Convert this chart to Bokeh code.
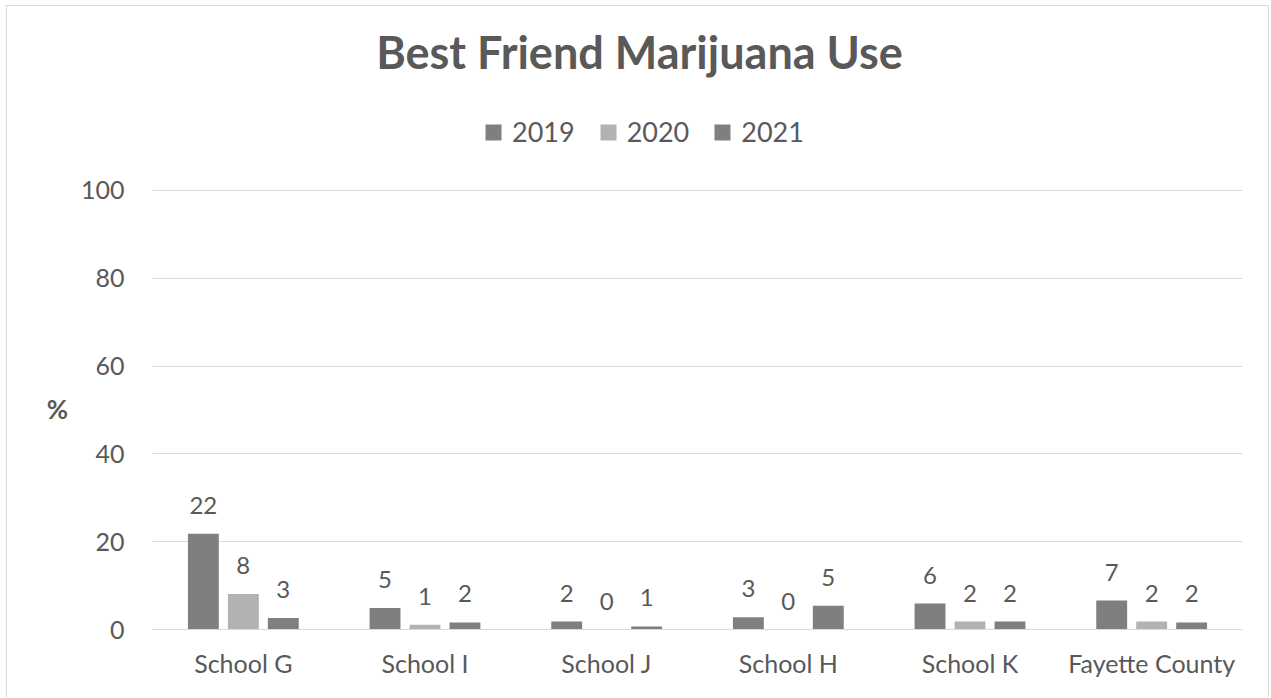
from bokeh.plotting import figure
from bokeh.models import ColumnDataSource, FactorRange, Range1d, Legend, LegendItem, LabelSet, Label, FixedTicker
from bokeh.core.properties import value
from bokeh.transform import dodge
from bokeh.embed import file_html
from bokeh.resources import INLINE

categories = ["School G", "School I", "School J", "School H", "School K", "Fayette County"]
years = ["2019", "2020", "2021"]
v2019 = [21.8, 4.9, 1.8, 2.8, 5.9, 6.6]
v2020 = [8.1, 1.1, 0.0, 0.0, 1.8, 1.8]
v2021 = [2.6, 1.6, 0.7, 5.4, 1.8, 1.6]
l2019 = ["22", "5", "2", "3", "6", "7"]
l2020 = ["8", "1", "0", "0", "2", "2"]
l2021 = ["3", "2", "1", "5", "2", "2"]
y_ticks = [0, 20, 40, 60, 80, 100]
title_text = "Best Friend Marijuana Use"
y_label = "%"

FONT = "Lato"
TXT = "#595959"
GRID = "#d9d9d9"
colors = ["#7f7f7f", "#b2b2b2", "#7f7f7f"]

src = ColumnDataSource(dict(cat=categories, v2019=v2019, v2020=v2020, v2021=v2021,
                            l2019=l2019, l2020=l2020, l2021=l2021))

# frame: left 145, right 1235, bottom 623 (canvas px); value 100 sits 439 px above 0
p = figure(x_range=FactorRange(*categories, range_padding=0), y_range=Range1d(0, 141.9),
           width=1263, height=692, output_backend="svg", toolbar_location=None,
           min_border_left=145, min_border_right=28, min_border_top=0, min_border_bottom=69)
p.styles = {"border": "1px solid #d9d9d9", "border-bottom": "none", "margin": "5px 0 0 6px"}
p.outline_line_color = None

offsets = [-0.22, 0.0, 0.22]
renderers = []
for yr, off, col in zip(years, offsets, colors):
    r = p.vbar(x=dodge("cat", off, range=p.x_range), top="v" + yr, width=0.17,
               source=src, fill_color=col, line_color=None)
    renderers.append(r)
    lab = LabelSet(x=dodge("cat", off, range=p.x_range), y="v" + yr, text="l" + yr,
                   source=src, text_align="center", text_baseline="alphabetic",
                   y_offset=20, text_font=value(FONT), text_font_size="24px", text_color=TXT)
    p.add_layout(lab)

p.add_layout(Label(x=631, y=44, x_units="canvas", y_units="canvas", text=title_text,
                   text_align="center", text_baseline="alphabetic", text_font=FONT,
                   text_font_size="45px", text_font_style="bold", text_color=TXT))

legend = Legend(items=[LegendItem(label=yr, renderers=[r]) for yr, r in zip(years, renderers)],
                orientation="horizontal", location=(331, 481), border_line_color=None,
                background_fill_alpha=0, label_text_font=FONT, label_text_font_size="27px",
                label_text_color=TXT, glyph_width=20, glyph_height=20, label_standoff=9,
                spacing=23, padding=0, margin=0)
p.add_layout(legend)

p.yaxis.ticker = FixedTicker(ticks=y_ticks)
p.yaxis.axis_line_color = None
p.yaxis.major_tick_line_color = None
p.yaxis.minor_tick_line_color = None
p.yaxis.major_label_standoff = 22
p.yaxis.major_label_text_font = FONT
p.yaxis.major_label_text_font_size = "25px"
p.yaxis.major_label_text_color = TXT
# the frame reaches the top of the canvas, so blank leading lines lower the "%" to mid-scale
p.yaxis.axis_label = "\n" * 6 + y_label
p.yaxis.axis_label_orientation = "horizontal"
p.yaxis.axis_label_text_font = FONT
p.yaxis.axis_label_text_font_size = "26px"
p.yaxis.axis_label_text_font_style = "bold"
p.yaxis.axis_label_text_color = TXT
p.yaxis.axis_label_text_line_height = 0.95
p.yaxis.axis_label_standoff = 10

p.xaxis.axis_line_color = GRID
p.xaxis.axis_line_width = 1
p.xaxis.major_tick_line_color = None
p.xaxis.major_label_standoff = 12
p.xaxis.major_label_text_font = FONT
p.xaxis.major_label_text_font_size = "25px"
p.xaxis.major_label_text_color = TXT

p.xgrid.grid_line_color = None
p.ygrid.grid_line_color = GRID
p.ygrid.grid_line_width = 1

open("out.html", "w").write(file_html(p, INLINE))
